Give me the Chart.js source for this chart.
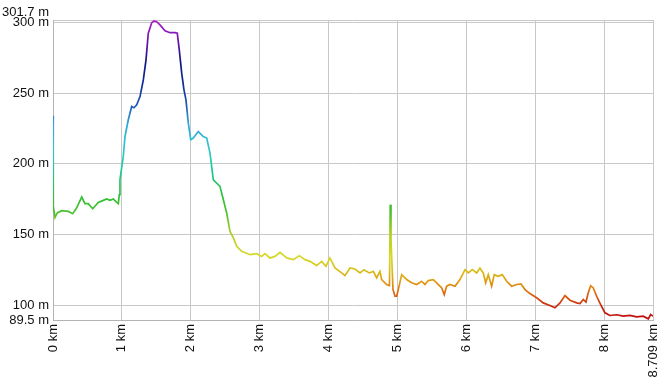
<!DOCTYPE html>
<html>
<head>
<meta charset="utf-8">
<script src="https://cdn.jsdelivr.net/npm/chart.js@4/dist/chart.umd.min.js"></script>
<style>
  body { margin: 0; background: #fff; }
  canvas { display: block; }
</style>
</head>
<body>
<canvas id="profile" width="663" height="386"></canvas>
<script>
// distance along the track (km) and elevation (m)
const distKm = [
  0.000, 0.004, 0.029, 0.062, 0.126, 0.222, 0.286, 0.344, 0.417, 0.464,
  0.512, 0.576, 0.657, 0.730, 0.779, 0.827, 0.875, 0.925, 0.948, 0.962,
  0.972, 1.020, 1.045, 1.093, 1.142, 1.176, 1.215, 1.263, 1.311, 1.350,
  1.383, 1.433, 1.466, 1.505, 1.553, 1.626, 1.698, 1.771, 1.804, 1.833,
  1.868, 1.901, 1.930, 1.964, 1.999, 2.036, 2.109, 2.181, 2.231, 2.279,
  2.327, 2.424, 2.521, 2.569, 2.617, 2.666, 2.739, 2.859, 2.956, 3.029,
  3.077, 3.149, 3.222, 3.295, 3.392, 3.488, 3.575, 3.657, 3.730, 3.827,
  3.900, 3.962, 4.020, 4.093, 4.190, 4.238, 4.311, 4.383, 4.456, 4.514,
  4.591, 4.649, 4.698, 4.746, 4.771, 4.843, 4.884, 4.895, 4.906, 4.935,
  4.964, 4.988, 5.012, 5.061, 5.134, 5.206, 5.279, 5.351, 5.399, 5.447,
  5.520, 5.569, 5.642, 5.679, 5.714, 5.762, 5.835, 5.907, 5.980, 6.028,
  6.086, 6.150, 6.197, 6.245, 6.280, 6.318, 6.367, 6.405, 6.463, 6.521,
  6.585, 6.657, 6.730, 6.792, 6.851, 6.923, 7.020, 7.116, 7.213, 7.286,
  7.359, 7.431, 7.504, 7.601, 7.649, 7.697, 7.736, 7.769, 7.804, 7.842,
  7.891, 7.949, 8.012, 8.084, 8.181, 8.277, 8.374, 8.472, 8.567, 8.640,
  8.675, 8.709
];
const elevM = [
  234.0, 170.0, 162.0, 165.2, 166.8, 166.3, 164.7, 168.9, 176.5, 171.8,
  171.8, 168.2, 172.7, 174.1, 175.1, 174.1, 175.1, 172.7, 171.8, 178.1,
  188.7, 205.2, 219.3, 231.1, 240.5, 239.6, 241.7, 247.5, 259.3, 273.5,
  292.3, 299.8, 301.0, 300.5, 298.2, 294.1, 292.7, 292.7, 292.3, 280.5,
  264.1, 252.3, 245.2, 228.7, 217.0, 218.2, 222.8, 219.3, 218.2, 207.6,
  188.7, 184.0, 165.2, 152.2, 147.7, 141.6, 138.1, 135.7, 136.4, 134.5,
  136.4, 133.4, 134.5, 137.4, 133.4, 132.2, 135.0, 132.2, 131.0, 128.0,
  131.0, 127.5, 133.4, 126.3, 122.8, 120.9, 126.3, 125.6, 122.8, 125.1,
  122.8, 123.9, 119.3, 123.9, 118.1, 114.6, 113.9, 171.1, 146.3, 111.0,
  106.3, 106.3, 111.0, 121.6, 118.1, 115.8, 114.6, 116.9, 114.6, 117.4,
  118.1, 115.8, 112.2, 107.5, 113.4, 114.6, 113.4, 118.1, 125.1, 122.8,
  125.1, 122.8, 126.3, 122.8, 115.8, 121.6, 113.4, 121.6, 120.4, 121.6,
  116.9, 113.4, 114.6, 115.1, 111.0, 108.2, 105.2, 101.6, 99.7, 98.1,
  101.6, 106.8, 103.5, 101.6, 101.1, 104.0, 102.1, 108.7, 113.8, 112.2,
  106.3, 100.4, 94.6, 92.7, 93.2, 92.2, 92.7, 91.7, 92.2, 90.3,
  93.4, 92.2
];

const xTicks = [0, 1, 2, 3, 4, 5, 6, 7, 8, 8.709];
const yTicks = [89.5, 100, 150, 200, 250, 300, 301.7];
const yMin = 89.5;
const yMax = 301.7;

// colour by height: red low, through yellow, green, cyan, blue, to purple at the top
const colorStops = [
  [89.5, "#c00808"],
  [98, "#c82010"],
  [105, "#d85010"],
  [112, "#e08010"],
  [118, "#e0a010"],
  [125, "#d8c018"],
  [135, "#d8d828"],
  [150, "#b0d020"],
  [165, "#50c030"],
  [175, "#30c030"],
  [195, "#20c890"],
  [210, "#30c8d0"],
  [228, "#30a8d8"],
  [240, "#2060b8"],
  [255, "#102c98"],
  [272, "#101880"],
  [282, "#5010a8"],
  [301.7, "#b020c8"]
];

function heightGradient(context) {
  const chart = context.chart;
  const area = chart.chartArea;
  if (!area) return "#30c030";
  const y = chart.scales.y;
  const g = chart.ctx.createLinearGradient(0, y.getPixelForValue(yMin), 0, y.getPixelForValue(yMax));
  colorStops.forEach(([e, c]) => g.addColorStop((e - yMin) / (yMax - yMin), c));
  return g;
}

const font = { family: "'Liberation Sans', Arial, sans-serif", size: 13 };

new Chart(document.getElementById("profile"), {
  type: "line",
  data: {
    datasets: [
      {
        data: distKm.map((d, i) => ({ x: d, y: elevM[i] })),
        borderColor: heightGradient,
        borderWidth: 1.7,
        pointRadius: 0,
        tension: 0,
        fill: false,
      },
    ],
  },
  options: {
    responsive: false,
    animation: false,
    layout: { padding: { top: 20, right: 10, left: 0, bottom: 0 } },
    plugins: { legend: { display: false }, tooltip: { enabled: false } },
    scales: {
      x: {
        type: "linear",
        min: 0,
        max: 8.709,
        afterBuildTicks: (scale) => {
          scale.ticks = xTicks.map((v) => ({ value: v }));
        },
        afterFit: (scale) => {
          scale.height = 66;
          // rotated labels don't need the extra side room
          scale.paddingLeft = 0;
          scale.paddingRight = 0;
        },
        ticks: {
          autoSkip: false,
          minRotation: 90,
          maxRotation: 90,
          padding: 4,
          color: "#111",
          font: font,
          callback: (v) => v + " km",
        },
        grid: { color: "#c8c8c8", drawTicks: false },
        border: { color: "#b4b4b4" },
      },
      y: {
        type: "linear",
        min: yMin,
        max: yMax,
        afterBuildTicks: (scale) => {
          scale.ticks = yTicks.map((v) => ({ value: v }));
        },
        afterFit: (scale) => {
          scale.width = 53;
        },
        ticks: {
          autoSkip: false,
          padding: 4,
          color: "#111",
          font: font,
          // top label is lifted a little so it doesn't sit on "300 m"
          callback: (v) => (v === yMax ? [v + " m", ""] : v + " m"),
        },
        grid: { color: "#c8c8c8", drawTicks: false },
        border: { color: "#b4b4b4" },
      },
    },
  },
});
</script>
</body>
</html>
